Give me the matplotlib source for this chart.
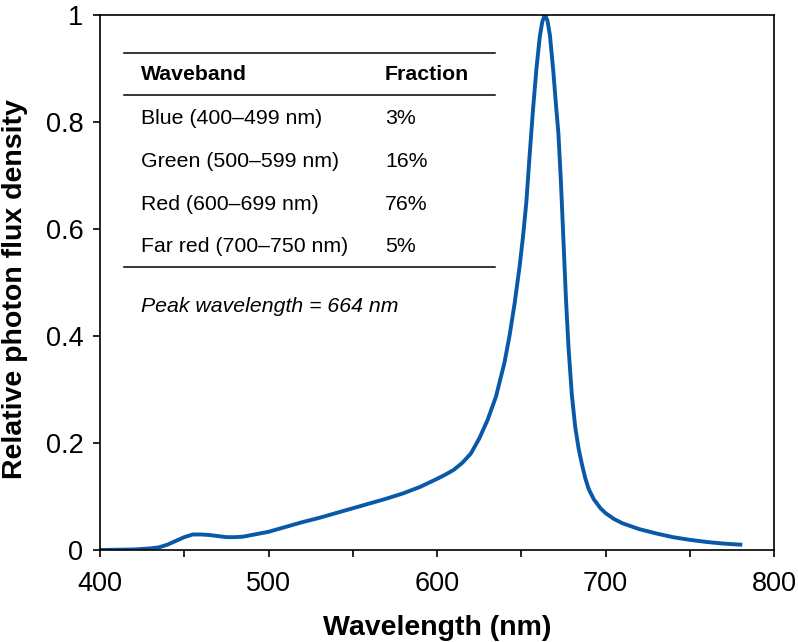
import matplotlib
matplotlib.use("Agg")
import matplotlib.pyplot as plt
from matplotlib.ticker import MultipleLocator

plt.rcParams['font.family'] = ['Liberation Sans', 'DejaVu Sans']

# Espectro (nm, densidad relativa)
wavelength = [400, 410, 420, 430, 435, 440, 445, 450, 455, 460, 465, 470, 475,
              480, 485, 490, 495, 500, 510, 520, 530, 540, 550, 560, 570, 580,
              590, 600, 605, 610, 615, 620, 625, 630, 635, 640, 643, 646, 649,
              651, 653, 655, 657, 659, 661, 662.5, 664, 665.5, 667, 669, 670.5,
              672, 673.5, 675, 676.5, 678, 680, 682, 684, 686, 688, 690, 693,
              697, 700, 705, 710, 720, 730, 740, 750, 760, 770, 780]
flux = [0.0, 0.0005, 0.001, 0.003, 0.005, 0.010, 0.017, 0.024, 0.029, 0.029,
        0.028, 0.026, 0.024, 0.024, 0.025, 0.028, 0.031, 0.034, 0.043, 0.052,
        0.060, 0.069, 0.078, 0.087, 0.096, 0.106, 0.118, 0.133, 0.141, 0.150,
        0.163, 0.180, 0.208, 0.243, 0.287, 0.350, 0.400, 0.460, 0.530, 0.585,
        0.650, 0.740, 0.825, 0.900, 0.960, 0.988, 1.0, 0.990, 0.962, 0.895,
        0.835, 0.780, 0.690, 0.580, 0.470, 0.380, 0.290, 0.230, 0.190, 0.160,
        0.134, 0.114, 0.095, 0.078, 0.069, 0.058, 0.050, 0.039, 0.031, 0.024,
        0.019, 0.015, 0.012, 0.010]

wavebands = ["Blue (400\u2013499 nm)", "Green (500\u2013599 nm)",
             "Red (600\u2013699 nm)", "Far red (700\u2013750 nm)"]
fractions = ["3%", "16%", "76%", "5%"]
peak_nm = 664

fig = plt.figure(figsize=(7.98, 6.42), dpi=100)
ax = fig.add_axes([0.1253, 0.1433, 0.8447, 0.8333])

ax.plot(wavelength, flux, color="#0a58a8", lw=2.8, solid_joinstyle="round")

ax.set_xlim(400, 800)
ax.set_ylim(0, 1)
ax.xaxis.set_major_locator(MultipleLocator(100))
ax.xaxis.set_minor_locator(MultipleLocator(50))
ax.set_yticks([0, 0.2, 0.4, 0.6, 0.8, 1])
ax.set_yticklabels(["0", "0.2", "0.4", "0.6", "0.8", "1"])
ax.tick_params(which="both", direction="out", length=5, width=1.2,
               labelsize=19.5, top=False, right=False)
ax.tick_params(axis="x", which="both", pad=10)
ax.tick_params(axis="y", pad=7)
for s in ax.spines.values():
    s.set_linewidth(1.2)

ax.set_xlabel("Wavelength (nm)", fontsize=20.5, fontweight="bold")
ax.set_ylabel("Relative photon flux density", fontsize=20.5, fontweight="bold")
ax.xaxis.set_label_coords(0.5, -0.122)
ax.yaxis.set_label_coords(-0.107, 0.488)

# Tabla insertada (coordenadas de ejes)
tr = ax.transAxes
fs = 15.3
x0, x1 = 0.0356, 0.586
for yy in (0.929, 0.8505, 0.529):
    ax.plot([x0, x1], [yy, yy], color="black", lw=1.1, transform=tr)
ax.text(0.061, 0.888, "Waveband", transform=tr, fontsize=fs,
        fontweight="bold", va="center")
ax.text(0.423, 0.888, "Fraction", transform=tr, fontsize=fs,
        fontweight="bold", va="center")
rows_y = [0.8075, 0.726, 0.645, 0.567]
for name, frac, yy in zip(wavebands, fractions, rows_y):
    ax.text(0.061, yy, name, transform=tr, fontsize=fs, va="center")
    ax.text(0.423, yy, frac, transform=tr, fontsize=fs, va="center")
ax.text(0.061, 0.456, f"Peak wavelength = {peak_nm} nm", transform=tr,
        fontsize=fs, style="italic", va="center")

fig.savefig("out.png", dpi=100)
